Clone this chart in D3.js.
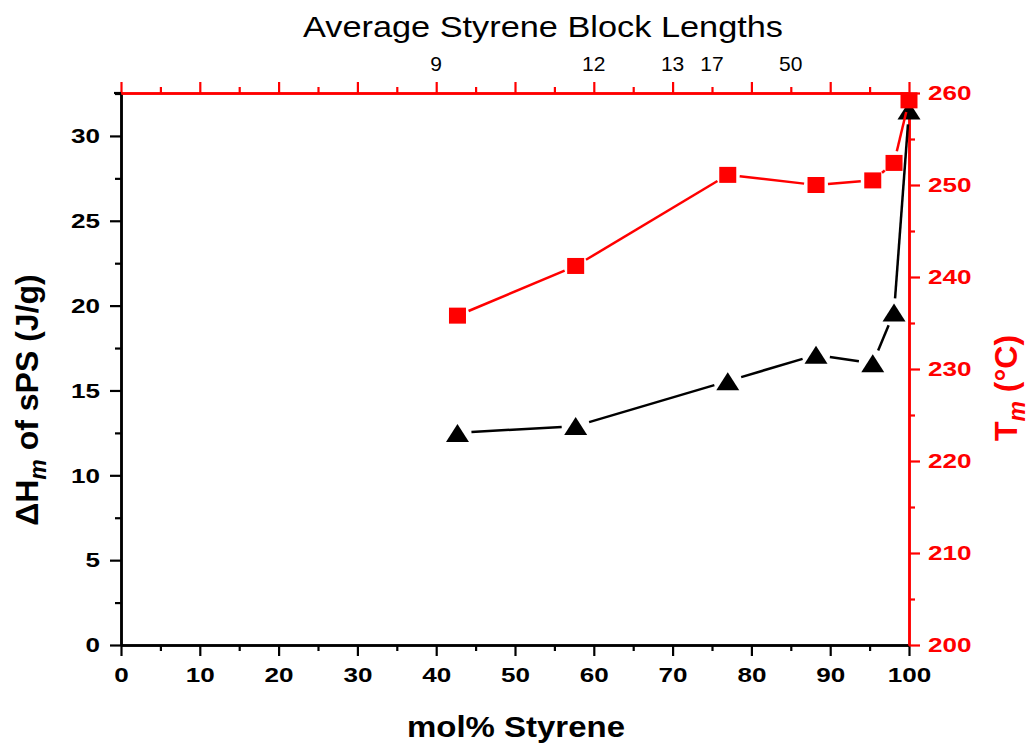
<!DOCTYPE html>
<html><head><meta charset="utf-8">
<script src="https://cdn.jsdelivr.net/npm/d3@7"></script>
<style>body{margin:0;background:#fff}svg{display:block}</style>
</head><body>
<script>
const molStyrene = [42.7, 57.7, 77.0, 88.2, 95.4, 98.1, 100];
const deltaHm = [12.5, 12.9, 15.55, 17.1, 16.6, 19.6, 31.5];
const tm = [235.8, 241.2, 251.1, 250.0, 250.5, 252.4, 259.2];
const topTickPositions = [40, 60, 70, 75, 85];
const topTickLabels = ["9", "12", "13", "17", "50"];

const W = 1031, H = 744;
const m = {l: 121, r: 1031 - 909, t: 93, b: 744 - 645};
const svg = d3.select("body").append("svg").attr("width", W).attr("height", H);
const x = d3.scaleLinear().domain([0, 100]).range([m.l, W - m.r]);
const yL = d3.scaleLinear().domain([0, 32.53]).range([H - m.b, m.t]);
const yR = d3.scaleLinear().domain([200, 260]).range([H - m.b, m.t]);
const font = "'Liberation Sans', Arial, sans-serif";
const red = "#ff0000";
const MAJ = 11, MIN = 6;

function styleAxis(g, color, size, weight, stretch) {
  g.select(".domain").attr("stroke", color).attr("stroke-width", 2.5);
  g.selectAll(".tick line").attr("stroke", color).attr("stroke-width", 2.2);
  const t = g.selectAll("text").attr("fill", color).attr("font-family", font)
    .attr("font-size", size).attr("font-weight", weight);
  if (stretch) t.attr("textLength", function () { return this.textContent.length * 14.5; })
    .attr("lengthAdjust", "spacingAndGlyphs");
}

const xMinor = d3.range(5, 100, 10);
// bottom axis
svg.append("g").attr("transform", `translate(0,${H - m.b})`)
  .call(d3.axisBottom(x).tickValues(xMinor).tickSize(MIN).tickFormat("").tickSizeOuter(0))
  .call(g => styleAxis(g, "#000", 21, "bold"));
const gB = svg.append("g").attr("transform", `translate(0,${H - m.b})`)
  .call(d3.axisBottom(x).tickValues(d3.range(0, 101, 10)).tickSize(MAJ).tickPadding(11).tickSizeOuter(0))
  .call(g => styleAxis(g, "#000", 21, "bold", true));
gB.selectAll("text").attr("dy", "0.71em");

// left axis
svg.append("g").attr("transform", `translate(${m.l},0)`)
  .call(d3.axisLeft(yL).tickValues(d3.range(2.5, 32.6, 5)).tickSize(MIN).tickFormat("").tickSizeOuter(0))
  .call(g => styleAxis(g, "#000", 21, "bold"));
svg.append("g").attr("transform", `translate(${m.l},0)`)
  .call(d3.axisLeft(yL).tickValues(d3.range(0, 31, 5)).tickSize(MAJ).tickPadding(10).tickSizeOuter(0))
  .call(g => styleAxis(g, "#000", 21, "bold", true));

// top axis (red)
svg.append("g").attr("transform", `translate(0,${m.t})`)
  .call(d3.axisTop(x).tickValues(xMinor).tickSize(MIN).tickFormat("").tickSizeOuter(0))
  .call(g => styleAxis(g, red, 20, "normal"));
svg.append("g").attr("transform", `translate(0,${m.t})`)
  .call(d3.axisTop(x).tickValues(d3.range(0, 101, 10)).tickSize(MAJ).tickFormat("").tickSizeOuter(0))
  .call(g => styleAxis(g, red, 20, "normal"));
svg.append("g").selectAll("text").data(topTickPositions).join("text")
  .attr("x", d => x(d)).attr("y", 71).attr("text-anchor", "middle")
  .attr("font-family", font).attr("font-size", 21).attr("fill", "#000")
  .text((d, i) => topTickLabels[i]);

// right axis (red)
svg.append("g").attr("transform", `translate(${W - m.r},0)`)
  .call(d3.axisRight(yR).tickValues(d3.range(205, 260, 10)).tickSize(MIN).tickFormat("").tickSizeOuter(0))
  .call(g => styleAxis(g, red, 21, "bold"));
svg.append("g").attr("transform", `translate(${W - m.r},0)`)
  .call(d3.axisRight(yR).tickValues(d3.range(200, 261, 10)).tickSize(MAJ).tickPadding(8).tickSizeOuter(0))
  .call(g => styleAxis(g, red, 21, "bold", true));

// black stub at top-left corner
svg.append("line").attr("x1", m.l - 7).attr("x2", m.l).attr("y1", m.t).attr("y2", m.t)
  .attr("stroke", "#000").attr("stroke-width", 2.2);

// axis titles
svg.append("text").attr("x", 516).attr("y", 737).attr("text-anchor", "middle")
  .attr("font-family", font).attr("font-size", 30).attr("font-weight", "bold")
  .attr("textLength", 218).attr("lengthAdjust", "spacingAndGlyphs").text("mol% Styrene");
svg.append("text").attr("x", 543).attr("y", 37).attr("text-anchor", "middle")
  .attr("font-family", font).attr("font-size", 30)
  .attr("textLength", 480).attr("lengthAdjust", "spacingAndGlyphs").text("Average Styrene Block Lengths");

const lt = svg.append("text").attr("transform", `translate(38,400) rotate(-90)`)
  .attr("text-anchor", "middle").attr("font-family", font).attr("font-size", 32).attr("font-weight", "bold");
lt.append("tspan").text("\u0394H");
lt.append("tspan").attr("font-style", "italic").attr("font-size", 23).attr("dy", 8).text("m");
lt.append("tspan").attr("dy", -8).text(" of sPS (J/g)");

const rt = svg.append("text").attr("transform", `translate(1017,388) rotate(-90)`)
  .attr("text-anchor", "middle").attr("font-family", font).attr("font-size", 32).attr("font-weight", "bold").attr("fill", red);
rt.append("tspan").text("T");
rt.append("tspan").attr("font-style", "italic").attr("font-size", 23).attr("dy", 8).text("m");
rt.append("tspan").attr("dy", -8).text(" (\u00B0C)");

// series with gaps near markers
function gappedSegments(pts, gap) {
  const segs = [];
  for (let i = 0; i < pts.length - 1; i++) {
    const [x1, y1] = pts[i], [x2, y2] = pts[i + 1];
    const dx = x2 - x1, dy = y2 - y1, L = Math.hypot(dx, dy);
    if (L <= 2 * gap) continue;
    const ux = dx / L, uy = dy / L;
    segs.push([x1 + ux * gap, y1 + uy * gap, x2 - ux * gap, y2 - uy * gap]);
  }
  return segs;
}
const ptsB = molStyrene.map((v, i) => [x(v), yL(deltaHm[i])]);
const ptsR = molStyrene.map((v, i) => [x(v), yR(tm[i])]);

function triPath(w, h) {
  const p = d3.path();
  p.moveTo(0, -h / 2); p.lineTo(w / 2, h / 2); p.lineTo(-w / 2, h / 2); p.closePath();
  return p.toString();
}

svg.append("g").selectAll("line").data(gappedSegments(ptsB, 14)).join("line")
  .attr("x1", d => d[0]).attr("y1", d => d[1]).attr("x2", d => d[2]).attr("y2", d => d[3])
  .attr("stroke", "#000").attr("stroke-width", 2.5);
svg.append("g").selectAll("path").data(ptsB).join("path")
  .attr("d", triPath(23, 18))
  .attr("transform", d => `translate(${d[0]},${d[1]})`).attr("fill", "#000");

svg.append("g").selectAll("line").data(gappedSegments(ptsR, 12)).join("line")
  .attr("x1", d => d[0]).attr("y1", d => d[1]).attr("x2", d => d[2]).attr("y2", d => d[3])
  .attr("stroke", red).attr("stroke-width", 2.5);
svg.append("g").selectAll("rect").data(ptsR).join("rect")
  .attr("x", d => d[0] - 8.5).attr("y", d => d[1] - 8).attr("width", 17).attr("height", 16).attr("fill", red);
</script>
</body></html>
